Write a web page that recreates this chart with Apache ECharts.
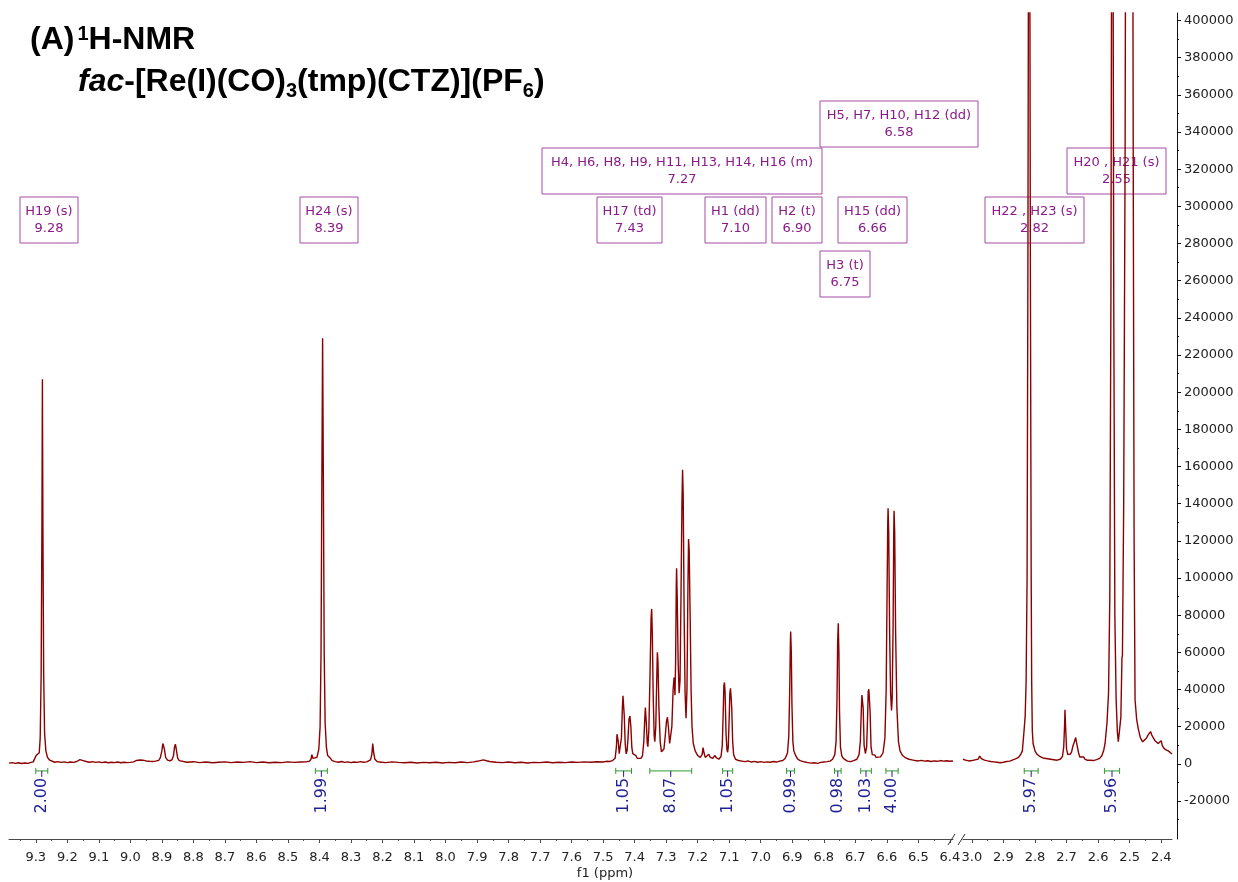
<!DOCTYPE html>
<html>
<head>
<meta charset="utf-8">
<title>1H-NMR fac-[Re(I)(CO)3(tmp)(CTZ)](PF6)</title>
<script src="https://cdn.jsdelivr.net/npm/echarts@6/dist/echarts.min.js"></script>
<style>
  html, body { margin: 0; padding: 0; background: #ffffff; }
  #chart { width: 1238px; height: 882px; }
</style>
</head>
<body>
<div id="chart"></div>
<script>
// ---- Spectrum: aromatic window (ppm, intensity) ----
const spectrumAromatic = [
  [9.385, 400], [9.375, 700], [9.365, 300], [9.355, 600], [9.345, 200], [9.335, 500], [9.325, 300], [9.315, 800], [9.308, 1100],
  [9.303, 1600], [9.299, 4500], [9.296, 5400], [9.293, 3500], [9.289, 6000], [9.286, 14000], [9.283, 48000], [9.2805, 130000],
  [9.279, 207000], [9.2775, 130000], [9.275, 48000], [9.272, 16000], [9.268, 7000], [9.263, 3500], [9.256, 2000], [9.25, 1400],
  [9.24, 900], [9.23, 1200], [9.22, 800], [9.21, 1100], [9.20, 700], [9.19, 1000], [9.18, 800], [9.17, 1300], [9.16, 2300],
  [9.155, 2600], [9.15, 1800], [9.14, 1300], [9.13, 900], [9.12, 1200], [9.11, 800], [9.10, 1100], [9.09, 700], [9.08, 1000],
  [9.07, 600], [9.06, 900], [9.05, 700], [9.04, 1000], [9.03, 600], [9.02, 900], [9.01, 700], [9.00, 800], [8.99, 1100],
  [8.98, 1900], [8.97, 2100], [8.96, 2000], [8.95, 1600], [8.94, 1400], [8.93, 1300], [8.92, 1500], [8.91, 1900], [8.905, 3200],
  [8.90, 7000], [8.897, 11000], [8.895, 11500], [8.892, 8000], [8.888, 3500], [8.882, 2000], [8.875, 1700], [8.868, 2200],
  [8.863, 4500], [8.86, 9000], [8.857, 10600], [8.854, 7500], [8.85, 3200], [8.845, 1800], [8.84, 1300], [8.82, 900],
  [8.80, 1200], [8.78, 700], [8.76, 1000], [8.74, 600], [8.72, 900], [8.70, 1100], [8.68, 700], [8.66, 1000], [8.64, 800],
  [8.62, 1200], [8.60, 700], [8.58, 1000], [8.56, 600], [8.54, 900], [8.52, 700], [8.50, 1100], [8.48, 800], [8.46, 1000],
  [8.44, 1200], [8.432, 1400], [8.427, 2500], [8.424, 5000], [8.421, 3000], [8.415, 2200], [8.408, 3500], [8.402, 8000],
  [8.398, 20000], [8.395, 60000], [8.3925, 150000], [8.390, 229000], [8.3875, 150000], [8.385, 60000], [8.382, 22000],
  [8.378, 9000], [8.374, 4500], [8.37, 3500], [8.366, 3200], [8.36, 1800], [8.35, 1200], [8.34, 900], [8.33, 1300],
  [8.32, 800], [8.31, 1100], [8.30, 700], [8.29, 1000], [8.28, 800], [8.27, 1200], [8.26, 900], [8.25, 1100], [8.245, 1200],
  [8.238, 2200], [8.234, 5000], [8.231, 10900], [8.228, 6000], [8.224, 2500], [8.218, 1400], [8.21, 1000], [8.19, 700],
  [8.17, 1100], [8.15, 800], [8.13, 600], [8.11, 900], [8.09, 500], [8.07, 800], [8.05, 600], [8.03, 900], [8.01, 500],
  [7.99, 800], [7.97, 600], [7.95, 1000], [7.93, 700], [7.91, 1100], [7.90, 1400], [7.89, 1800], [7.885, 2800], [7.88, 2200],
  [7.875, 2900], [7.87, 1700], [7.86, 1300], [7.84, 900], [7.82, 700], [7.80, 1000], [7.78, 600], [7.76, 900], [7.74, 500],
  [7.72, 800], [7.70, 700], [7.68, 1000], [7.66, 600], [7.64, 900], [7.62, 700], [7.60, 1000], [7.58, 800], [7.56, 1100],
  [7.54, 900], [7.52, 1200], [7.50, 1000], [7.49, 1400], [7.48, 1300], [7.47, 1800], [7.462, 3000], [7.458, 9000],
  [7.456, 16000], [7.4545, 16900], [7.452, 12000], [7.449, 5500], [7.446, 6000], [7.442, 14000], [7.439, 30000],
  [7.437, 36600], [7.435, 36000], [7.433, 26000], [7.430, 11000], [7.427, 5400], [7.424, 7000], [7.421, 14000],
  [7.418, 24000], [7.415, 25800], [7.412, 20000], [7.409, 9000], [7.406, 5500], [7.40, 5500], [7.396, 4500], [7.392, 3000],
  [7.386, 2600], [7.38, 3000], [7.375, 4500], [7.371, 12000], [7.368, 24000], [7.366, 30300], [7.363, 22000], [7.36, 11000],
  [7.358, 9300], [7.355, 18000], [7.351, 50000], [7.348, 78000], [7.346, 83400], [7.344, 70000], [7.341, 35000],
  [7.338, 15000], [7.336, 12000], [7.333, 20000], [7.33, 45000], [7.328, 60100], [7.326, 55000], [7.323, 30000],
  [7.319, 12000], [7.315, 6500], [7.311, 5700], [7.307, 8000], [7.303, 15000], [7.299, 23000], [7.296, 25100],
  [7.293, 20000], [7.289, 11000], [7.286, 10200], [7.282, 20000], [7.278, 40000], [7.275, 46500], [7.272, 37000],
  [7.270, 55000], [7.268, 95000], [7.267, 105300], [7.265, 90000], [7.262, 55000], [7.259, 38000], [7.256, 45000],
  [7.253, 90000], [7.25, 140000], [7.248, 158300], [7.246, 145000], [7.243, 80000], [7.240, 38000], [7.237, 24600],
  [7.234, 40000], [7.231, 95000], [7.229, 121000], [7.227, 115000], [7.224, 80000], [7.221, 40000], [7.218, 20000],
  [7.214, 11000], [7.208, 7000], [7.20, 4500], [7.192, 3500], [7.186, 5000], [7.183, 8800], [7.18, 6000], [7.176, 3500],
  [7.17, 3800], [7.165, 5200], [7.16, 3500], [7.152, 3000], [7.146, 4500], [7.14, 3200], [7.133, 2500], [7.126, 4000],
  [7.122, 10000], [7.119, 28000], [7.117, 42000], [7.115, 43800], [7.113, 38000], [7.11, 16000], [7.107, 7500],
  [7.105, 6300], [7.103, 9000], [7.10, 25000], [7.098, 38000], [7.096, 40700], [7.094, 36000], [7.092, 30000],
  [7.089, 12000], [7.086, 5000], [7.08, 2500], [7.07, 1800], [7.06, 1500], [7.05, 1200], [7.04, 1600], [7.03, 1000],
  [7.02, 1400], [7.01, 900], [7.00, 1200], [6.99, 800], [6.98, 1100], [6.97, 900], [6.96, 1300], [6.95, 1000], [6.94, 1500],
  [6.93, 1800], [6.922, 3000], [6.915, 6000], [6.911, 15000], [6.908, 40000], [6.906, 65000], [6.905, 71200],
  [6.903, 60000], [6.901, 32000], [6.898, 12000], [6.895, 7000], [6.892, 6000], [6.888, 4000], [6.882, 2500],
  [6.875, 1800], [6.87, 1300], [6.86, 1000], [6.85, 700], [6.84, 400], [6.83, 600], [6.82, 300], [6.81, 800], [6.80, 1000],
  [6.79, 1200], [6.78, 1500], [6.772, 2500], [6.765, 5000], [6.761, 12000], [6.758, 35000], [6.756, 65000], [6.754, 75700],
  [6.752, 60000], [6.750, 28000], [6.747, 9000], [6.743, 4500], [6.738, 3000], [6.732, 2000], [6.725, 1500], [6.715, 1200],
  [6.705, 1800], [6.695, 2500], [6.688, 5000], [6.684, 12000], [6.681, 28000], [6.679, 37000], [6.677, 37500],
  [6.675, 30000], [6.672, 10000], [6.668, 5600], [6.664, 9000], [6.661, 25000], [6.659, 39000], [6.657, 40200],
  [6.655, 40000], [6.653, 28000], [6.650, 9000], [6.646, 5000], [6.642, 4000], [6.638, 4800], [6.634, 3500],
  [6.628, 3000], [6.62, 3800], [6.612, 6000], [6.606, 14000], [6.602, 40000], [6.599, 95000], [6.597, 130000],
  [6.596, 137600], [6.594, 125000], [6.591, 70000], [6.588, 38000], [6.585, 28700], [6.583, 35000], [6.580, 75000],
  [6.578, 125000], [6.577, 136200], [6.575, 125000], [6.572, 70000], [6.568, 30000], [6.563, 12000], [6.558, 7000],
  [6.55, 4500], [6.54, 3200], [6.53, 2500], [6.52, 2200], [6.51, 1800], [6.50, 1600], [6.49, 1900], [6.48, 1500],
  [6.47, 1700], [6.46, 1300], [6.45, 1600], [6.44, 1400], [6.43, 1800], [6.42, 1500], [6.41, 1700], [6.40, 1400], [6.39, 1600]
];

// ---- Spectrum: aliphatic window (ppm, intensity); the tall singlets run off the top ----
const spectrumAliphatic = [
  [3.028, 2500], [3.02, 2000], [3.01, 1600], [3.00, 1800], [2.99, 2200], [2.98, 2600], [2.975, 4200], [2.97, 2800],
  [2.96, 2000], [2.95, 1600], [2.94, 1300], [2.93, 1100], [2.92, 900], [2.91, 600], [2.90, 900], [2.89, 1300], [2.88, 1500],
  [2.87, 2200], [2.86, 2800], [2.852, 3500], [2.845, 5200], [2.84, 7000], [2.836, 15000], [2.834, 19200], [2.831, 26000],
  [2.828, 45000], [2.825, 100000], [2.8225, 260000], [2.8185, 640000], [2.8145, 260000], [2.812, 100000], [2.8105, 45000],
  [2.8085, 18000], [2.806, 11000], [2.80, 7000], [2.794, 5300], [2.785, 4000], [2.775, 3200], [2.76, 2800], [2.745, 2400],
  [2.73, 2000], [2.72, 2500], [2.713, 4000], [2.709, 9000], [2.706, 22000], [2.705, 29100], [2.703, 20000], [2.70, 8000],
  [2.696, 5000], [2.692, 4200], [2.688, 5300], [2.684, 6500], [2.68, 9500], [2.676, 11500], [2.673, 12500], [2.671, 14200],
  [2.669, 12000], [2.666, 11000], [2.662, 6000], [2.658, 3700], [2.652, 3000], [2.646, 3800], [2.642, 2600], [2.635, 2000],
  [2.625, 2000], [2.615, 1800], [2.605, 2300], [2.595, 3000], [2.588, 4500], [2.582, 7500], [2.578, 11000], [2.572, 22000],
  [2.567, 38000], [2.563, 90000], [2.5595, 250000], [2.555, 640000], [2.5505, 250000], [2.547, 80000], [2.543, 35000],
  [2.539, 17000], [2.536, 12000], [2.532, 13000], [2.528, 25000], [2.5245, 57000], [2.523, 58500], [2.519, 140000],
  [2.5145, 330000], [2.509, 800000], [2.5015, 1600000], [2.494, 800000], [2.4885, 300000], [2.486, 120000], [2.483, 34500],
  [2.478, 24000], [2.473, 19000], [2.466, 14000], [2.459, 11900], [2.453, 12500], [2.447, 13800], [2.442, 15500],
  [2.437, 16000], [2.434, 17400], [2.43, 15500], [2.426, 16200], [2.42, 12500], [2.415, 11500], [2.41, 11000],
  [2.405, 10500], [2.40, 12500], [2.397, 10000], [2.392, 8500], [2.385, 7500], [2.378, 7000], [2.372, 6000], [2.366, 5300]
];

// ---- Integral regions: [from ppm, to ppm, relative integral] ----
const integrals = [
  [9.300, 9.262, 2.00], [8.413, 8.375, 1.99], [7.460, 7.410, 1.05], [7.352, 7.219, 8.07], [7.121, 7.089, 1.05],
  [6.918, 6.893, 0.99], [6.766, 6.745, 0.98], [6.683, 6.649, 1.03], [6.603, 6.564, 4.00],
  [2.834, 2.790, 5.97], [2.580, 2.532, 5.96]
];

// ---- Peak assignments (multiplicity, shift) ----
const assignments = [
  ['H19 (s)', '9.28'],
  ['H24 (s)', '8.39'],
  ['H4, H6, H8, H9, H11, H13, H14, H16 (m)', '7.27'],
  ['H5, H7, H10, H12 (dd)', '6.58'],
  ['H17 (td)', '7.43'],
  ['H1 (dd)', '7.10'],
  ['H2 (t)', '6.90'],
  ['H15 (dd)', '6.66'],
  ['H3 (t)', '6.75'],
  ['H22 , H23 (s)', '2.82'],
  ['H20 , H21 (s)', '2.55']
];

// ---- Axis ticks ----
const ppmTicksAromatic = [9.3, 9.2, 9.1, 9.0, 8.9, 8.8, 8.7, 8.6, 8.5, 8.4, 8.3, 8.2, 8.1, 8.0, 7.9, 7.8, 7.7, 7.6, 7.5,
  7.4, 7.3, 7.2, 7.1, 7.0, 6.9, 6.8, 6.7, 6.6, 6.5, 6.4];
const ppmTicksAliphatic = [3.0, 2.9, 2.8, 2.7, 2.6, 2.5, 2.4];
const intensityTicks = [-20000, 0, 20000, 40000, 60000, 80000, 100000, 120000, 140000, 160000, 180000, 200000, 220000,
  240000, 260000, 280000, 300000, 320000, 340000, 360000, 380000, 400000];

// half-step minor ticks
const ppmMinorAromatic = ppmTicksAromatic.map(v => +(v + 0.05).toFixed(2));
const ppmMinorAliphatic = ppmTicksAliphatic.slice(1).map(v => +(v + 0.05).toFixed(2));
const intensityMinor = intensityTicks.map(v => v - 10000);

// ---- Layout of the assignment boxes (pixels: left, top, width, height) ----
const assignmentBoxes = [
  [20, 197, 58, 46], [300, 197, 58, 46], [542, 148, 280, 46], [820, 101, 158, 46], [597, 197, 65, 46],
  [705, 197, 61, 46], [772, 197, 50, 46], [838, 197, 69, 46], [820, 251, 50, 46], [985, 197, 99, 46], [1067, 148, 99, 46]
];

const LINE_COLOR = '#8b0000';
const AXIS_COLOR = '#4a4a4a';
const LABEL_FONT = 'DejaVu Sans';
const INT_GREEN = '#2f9a2f';
const INT_BLUE = '#1f1f96';
const TAG_COLOR = '#8b1a8b';
const TAG_BORDER = '#a64aa6';

const Y_MIN = -40400, Y_MAX = 404000;

const chart = echarts.init(document.getElementById('chart'), null, { renderer: 'canvas' });

function integralRenderer(params, api) {
  const a = api.coord([api.value(0), 0]);
  const b = api.coord([api.value(1), 0]);
  const y = a[1] + 7;
  const cx = (a[0] + b[0]) / 2;
  const green = { stroke: INT_GREEN, lineWidth: 1 };
  return {
    type: 'group',
    children: [
      { type: 'line', shape: { x1: a[0], y1: y, x2: b[0], y2: y }, style: green },
      { type: 'line', shape: { x1: a[0], y1: y - 3, x2: a[0], y2: y + 3 }, style: green },
      { type: 'line', shape: { x1: b[0], y1: y - 3, x2: b[0], y2: y + 3 }, style: green },
      { type: 'line', shape: { x1: cx, y1: y, x2: cx, y2: y + 6 }, style: { stroke: INT_BLUE, lineWidth: 1 } },
      {
        type: 'text', x: cx, y: y + 7, rotation: Math.PI / 2,
        style: {
          text: api.value(2).toFixed(2), align: 'right', verticalAlign: 'middle',
          fill: INT_BLUE, font: '16px "' + LABEL_FONT + '"'
        }
      }
    ]
  };
}

// measure helper for the composed title
const measureCtx = document.createElement('canvas').getContext('2d');
function textWidth(text, font) { measureCtx.font = font; return measureCtx.measureText(text).width; }

function composedLine(parts, x0, midY) {
  const out = [];
  let x = x0;
  parts.forEach(p => {
    out.push({
      type: 'text', x: x, y: midY + (p.dy || 0), z: 10,
      style: { text: p.text, font: p.font, fill: '#000', align: 'left', verticalAlign: 'middle' }
    });
    x += textWidth(p.text, p.font) + (p.gap || 0);
  });
  return out;
}

const BIG = 'bold 32px "Liberation Sans", Arial, sans-serif';
const BIG_IT = 'italic bold 32px "Liberation Sans", Arial, sans-serif';
const SMALL = 'bold 20px "Liberation Sans", Arial, sans-serif';

const titleElements = [].concat(
  composedLine([
    { text: '(A)', font: BIG, gap: 3 },
    { text: '1', font: SMALL, dy: -6 },
    { text: 'H-NMR', font: BIG }
  ], 30, 40),
  composedLine([
    { text: 'fac', font: BIG_IT },
    { text: '-[Re(I)(CO)', font: BIG },
    { text: '3', font: SMALL, dy: 9 },
    { text: '(tmp)(CTZ)](PF', font: BIG },
    { text: '6', font: SMALL, dy: 9 },
    { text: ')', font: BIG }
  ], 78, 82)
);

const tagElements = [];
assignments.forEach((a, i) => {
  const [l, t, w, h] = assignmentBoxes[i];
  tagElements.push({
    type: 'rect', z: 0, shape: { x: l, y: t, width: w, height: h },
    style: { fill: 'rgba(255,255,255,0)', stroke: TAG_BORDER, lineWidth: 1 }
  });
  tagElements.push({
    type: 'text', z: 0, x: l + w / 2, y: t + h / 2,
    style: {
      text: a[0] + '\n' + a[1], align: 'center', verticalAlign: 'middle', lineHeight: 17,
      font: '13px "' + LABEL_FONT + '"', fill: TAG_COLOR
    }
  });
});

// axis break marks and axis title
const breakElements = [
  { type: 'line', z: 10, shape: { x1: 948, y1: 845, x2: 955, y2: 834 }, style: { stroke: '#333', lineWidth: 1 } },
  { type: 'line', z: 10, shape: { x1: 958, y1: 845, x2: 965, y2: 834 }, style: { stroke: '#333', lineWidth: 1 } },
  {
    type: 'text', x: 605, y: 874, z: 10,
    style: { text: 'f1 (ppm)', font: '13px "' + LABEL_FONT + '"', fill: '#222', align: 'center', verticalAlign: 'middle' }
  }
];

function ppmAxis(gridIndex, min, max, ticks) {
  return {
    type: 'value', gridIndex: gridIndex, inverse: true, min: min, max: max,
    axisLine: { show: true, onZero: false, lineStyle: { color: AXIS_COLOR, width: 1 } },
    axisTick: { show: true, customValues: ticks, length: 4, lineStyle: { color: AXIS_COLOR } },
    axisLabel: {
      customValues: ticks, formatter: v => v.toFixed(1), margin: 12,
      fontFamily: LABEL_FONT, fontSize: 13, color: '#222', hideOverlap: false
    },
    splitLine: { show: false }
  };
}
function ppmMinorAxis(gridIndex, min, max, ticks) {
  return {
    type: 'value', gridIndex: gridIndex, inverse: true, min: min, max: max, position: 'bottom',
    axisLine: { show: false, onZero: false },
    axisTick: { show: true, customValues: ticks, length: 2, lineStyle: { color: AXIS_COLOR } },
    axisLabel: { show: false },
    splitLine: { show: false }
  };
}

const option = {
  backgroundColor: '#ffffff',
  animation: false,
  grid: [
    { left: 9, right: 285, top: 13, bottom: 43, containLabel: false, outerBoundsMode: 'none' },
    { left: 963, right: 66, top: 13, bottom: 43, containLabel: false, outerBoundsMode: 'none' }
  ],
  xAxis: [
    ppmAxis(0, 6.39, 9.385, ppmTicksAromatic),
    ppmMinorAxis(0, 6.39, 9.385, ppmMinorAromatic),
    ppmAxis(1, 2.366, 3.028, ppmTicksAliphatic),
    ppmMinorAxis(1, 2.366, 3.028, ppmMinorAliphatic)
  ],
  yAxis: [
    { type: 'value', gridIndex: 0, min: Y_MIN, max: Y_MAX, show: false, splitLine: { show: false } },
    {
      type: 'value', gridIndex: 1, min: Y_MIN, max: Y_MAX, position: 'right', offset: 5,
      axisLine: { show: true, lineStyle: { color: '#111', width: 1 } },
      axisTick: { show: true, customValues: intensityTicks, length: 4, lineStyle: { color: '#111' } },
      axisLabel: {
        customValues: intensityTicks, margin: 7, fontFamily: LABEL_FONT, fontSize: 13, color: '#222',
        formatter: v => String(v)
      },
      splitLine: { show: false }
    },
    {
      type: 'value', gridIndex: 1, min: Y_MIN, max: Y_MAX, position: 'right', offset: 5,
      axisLine: { show: false },
      axisTick: { show: true, customValues: intensityMinor, length: 2, lineStyle: { color: '#111' } },
      axisLabel: { show: false },
      splitLine: { show: false }
    }
  ],
  graphic: { elements: [].concat(tagElements, titleElements, breakElements) },
  series: [
    {
      type: 'line', xAxisIndex: 0, yAxisIndex: 0, data: spectrumAromatic, showSymbol: false, symbol: 'none',
      lineStyle: { color: LINE_COLOR, width: 1.4 }, clip: true, z: 5
    },
    {
      type: 'line', xAxisIndex: 2, yAxisIndex: 1, data: spectrumAliphatic, showSymbol: false, symbol: 'none',
      lineStyle: { color: LINE_COLOR, width: 1.4 }, clip: true, z: 5
    },
    {
      type: 'custom', xAxisIndex: 0, yAxisIndex: 0, renderItem: integralRenderer,
      encode: { x: [0, 1] }, data: integrals.filter(r => r[0] > 5), z: 6
    },
    {
      type: 'custom', xAxisIndex: 2, yAxisIndex: 1, renderItem: integralRenderer,
      encode: { x: [0, 1] }, data: integrals.filter(r => r[0] < 5), z: 6
    }
  ]
};

chart.setOption(option);
</script>
</body>
</html>
